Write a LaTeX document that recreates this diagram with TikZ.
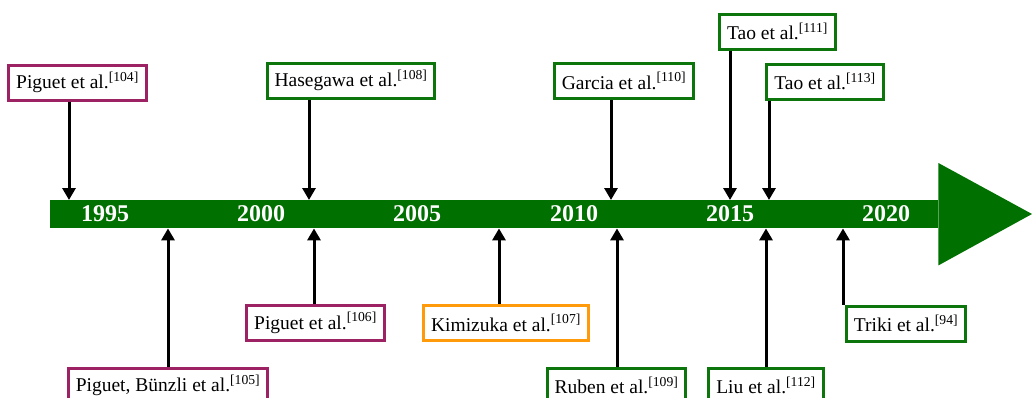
\documentclass[tikz,border=0pt]{standalone}
\usepackage{fontspec}
\setmainfont{Liberation Serif}
\usetikzlibrary{arrows.meta,positioning,calc}
\definecolor{barcol}{HTML}{007000}
\definecolor{grn}{HTML}{0C760C}
\definecolor{plum}{HTML}{9C2264}
\definecolor{amber}{HTML}{FF9A0A}

\begin{document}
\begin{tikzpicture}[x=1pt, y=-1pt,
  ref/.style={draw=#1, line width=3pt, fill=white, inner xsep=7.5pt, minimum height=35pt, font=\fontsize{19.5}{22}\selectfont},
  ref/.default=grn,
  year/.style={text=white, font=\fontsize{24}{28}\selectfont\bfseries},
  evt/.style={-{Triangle[length=12pt, width=13pt]}, line width=3pt, black}]
  \useasboundingbox (0,0) rectangle (1032,397);
  \clip (0,0) rectangle (1032,397);
  % timeline bar and head
  \node[fill=barcol, minimum width=888pt, minimum height=28pt, inner sep=0pt, anchor=north west] (bar) at (50,200) {};
  \fill[barcol] ($(bar.north east)+(0,-37)$) -- (1032,214) -- ($(bar.south east)+(0,37)$) -- cycle;
  \foreach \yr/\xx in {1995/105, 2000/261, 2005/417, 2010/574, 2015/730, 2020/886}
    \node[year] (y\yr) at (\xx,214) {\yr};
  % references above
  \node[ref=plum] (p104) at (77.5,82.5) {Piguet et al.\textsuperscript{[104]}};
  \node[ref] (h108) at (351,80.5) {Hasegawa et al.\textsuperscript{[108]}};
  \node[ref] (g110) at (624,81) {Garcia et al.\textsuperscript{[110]}};
  \node[ref] (t111) at (777.5,31.5) {Tao et al.\textsuperscript{[111]}};
  \node[ref] (t113) at (825,81.5) {Tao et al.\textsuperscript{[113]}};
  % references below
  \node[ref=plum] (b105) at (168,385.5) {Piguet, Bünzli et al.\textsuperscript{[105]}};
  \node[ref=plum] (p106) at (315.5,323) {Piguet et al.\textsuperscript{[106]}};
  \node[ref=amber] (k107) at (506,323) {Kimizuka et al.\textsuperscript{[107]}};
  \node[ref] (r109) at (616.5,385.5) {Ruben et al.\textsuperscript{[109]}};
  \node[ref] (l112) at (766,385.5) {Liu et al.\textsuperscript{[112]}};
  \node[ref] (t94) at (906,323.5) {Triki et al.\textsuperscript{[94]}};
  % pointers
  \draw[evt] (69,0 |- p104.south) -- (69,0 |- bar.north);
  \draw[evt] (309,0 |- h108.south) -- (309,0 |- bar.north);
  \draw[evt] (611,0 |- g110.south) -- (611,0 |- bar.north);
  \draw[evt] (730,0 |- t111.south) -- (730,0 |- bar.north);
  \draw[evt] (769,0 |- t113.south) -- (769,0 |- bar.north);
  \draw[evt] (168,0 |- b105.north) -- (168,0 |- bar.south);
  \draw[evt] (314,0 |- p106.north) -- (314,0 |- bar.south);
  \draw[evt] (499,0 |- k107.north) -- (499,0 |- bar.south);
  \draw[evt] (617,0 |- r109.north) -- (617,0 |- bar.south);
  \draw[evt] (766,0 |- l112.north) -- (766,0 |- bar.south);
  \draw[evt] (843,0 |- t94.north) -- (843,0 |- bar.south);
\end{tikzpicture}
\end{document}
